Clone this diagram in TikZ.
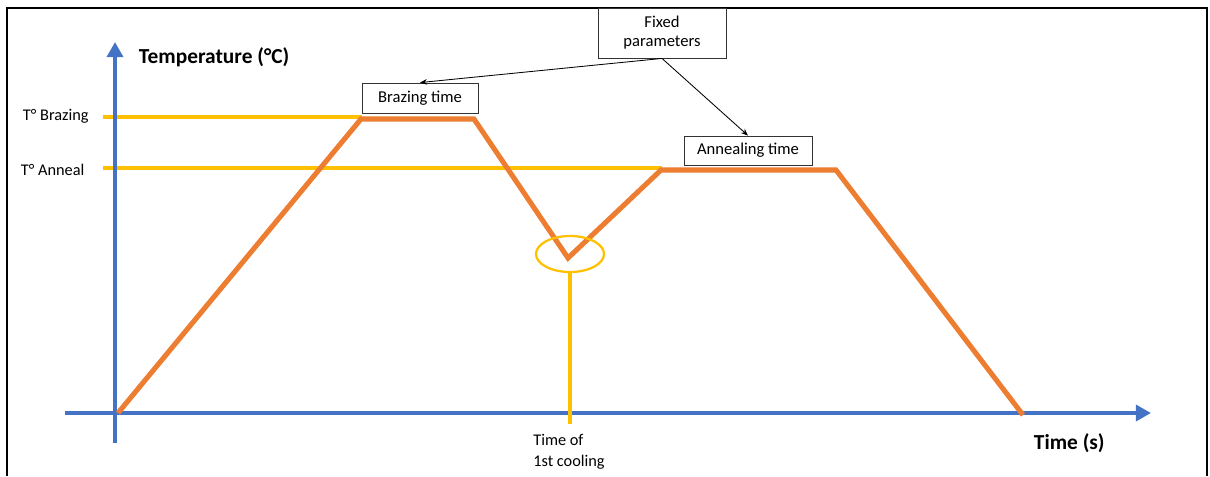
\documentclass[tikz,border=0pt]{standalone}
\usepackage{fontspec}
\setmainfont{Carlito}
\usetikzlibrary{positioning, arrows.meta, shapes.geometric}
\definecolor{axiscolor}{HTML}{4472C4}
\definecolor{cyclecolor}{HTML}{ED7D31}
\definecolor{levelcolor}{HTML}{FFC000}

\begin{document}
\begin{tikzpicture}[
  x=0.025cm, y=-0.025cm,
  axis/.style={draw=axiscolor, line width=3.5pt,
    -{Triangle[length=0.38cm, width=0.4cm]}},
  level/.style={draw=levelcolor, line width=2.4pt},
  cycle/.style={draw=cyclecolor, line width=3.6pt},
  box/.style={draw=black!80, fill=white, line width=0.6pt, inner sep=2pt,
    minimum width=#1, font=\fontsize{11.8}{13.5}\selectfont, align=center},
  pointer/.style={draw=black, line width=0.6pt, -{Stealth[length=5pt, width=4pt]}},
  label/.style={font=\fontsize{11.6}{15}\selectfont, anchor=west},
  title/.style={font=\fontsize{15.2}{17}\selectfont\bfseries, anchor=west}
]
\useasboundingbox (0,0) rectangle (1210,476);

% cadre
\draw[line width=1.3pt] (7,476) -- (7,8) -- (1207,8) -- (1207,476);

% niveaux de temperature
\draw[level] (103,117) -- (362,117);
\draw[level] (103,168) -- (662,168);
\node[label] (tbrz) at (18,116) {T° Brazing};
\node[label] (tann) at (16,170) {T° Anneal};

% axes
\draw[axis] (115,443) -- (115,42);
\draw[axis] (65,413) -- (1151,413);
\node[title] (ylab) at (134,57) {Temperature (°C)};
\node[title] (xlab) at (1029,443) {Time (s)};

% cycle thermique
\draw[cycle] (118,413) -- (361,119) -- (474,119) -- (568,258)
  -- (661,170) -- (836,170) -- (1023,415);

% premier refroidissement
\node[ellipse, draw=levelcolor, line width=1.6pt, minimum width=1.7cm,
  minimum height=0.9cm, inner sep=0pt] (cool) at (570,254) {};
\coordinate (cooltime) at (570,424);
\draw[level] (cool.south) -- (cooltime);
\node[label, anchor=north, align=left] (coollab) at (569,429) {Time of\\1st cooling};

% parametres fixes
\node[box=3.2cm, minimum height=1.25cm] (fix) at (662,33) {Fixed\\parameters};
\node[box=2.9cm, minimum height=0.75cm] (brz) at (420,98) {Brazing time};
\node[box=3.2cm, minimum height=0.725cm] (ann) at (748,150.5) {Annealing time};
\draw[pointer] (fix.south) -- (brz.north);
\draw[pointer] (fix.south) -- (ann.north);

\end{tikzpicture}
\end{document}
